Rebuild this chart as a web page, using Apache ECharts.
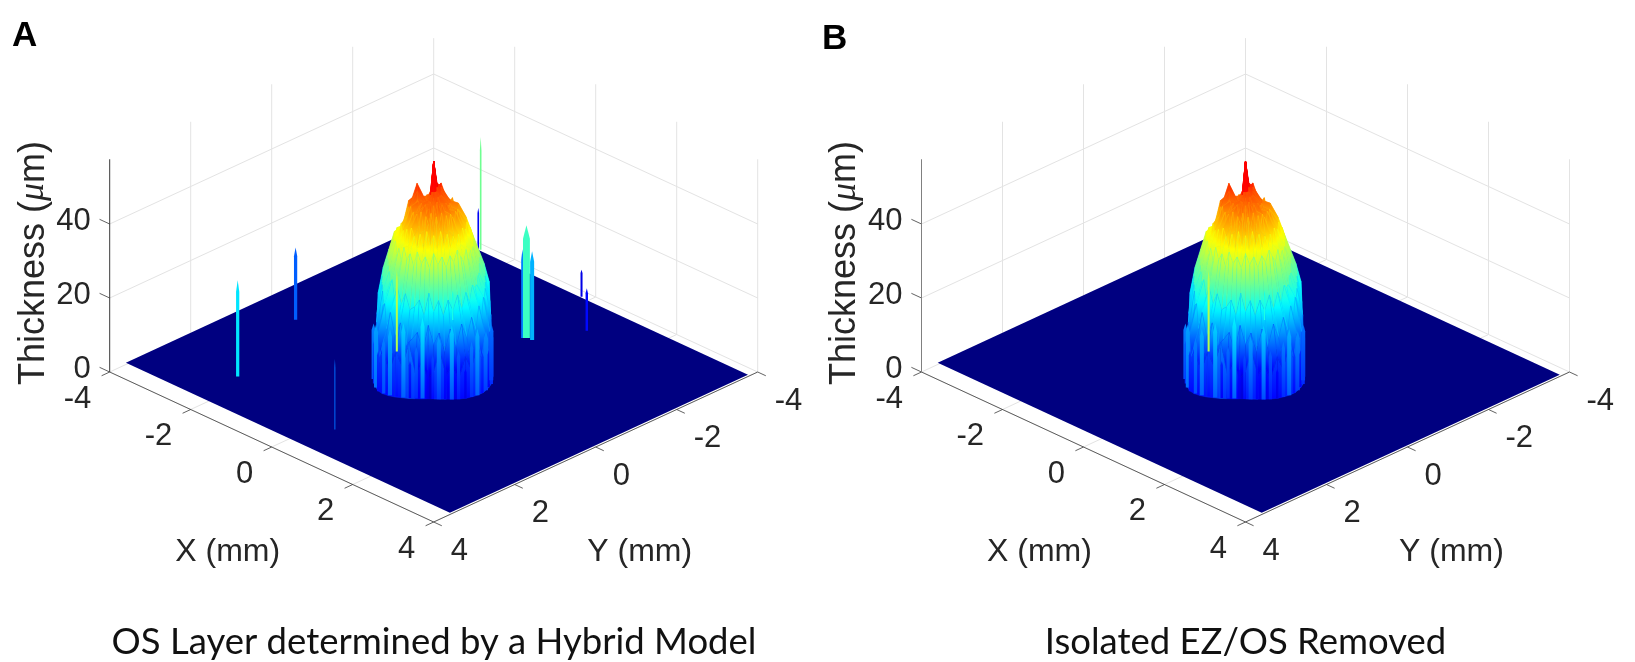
<!DOCTYPE html>
<html>
<head>
<meta charset="utf-8">
<style>html,body{margin:0;padding:0;background:#fff}#chart{width:1635px;height:662px}</style>
<script src="https://cdn.jsdelivr.net/npm/echarts@6/dist/echarts.min.js"></script>
</head>
<body>
<div id="chart"></div>
<script>
// ---------- axis ticks ----------
const xTicks = [-4, -2, 0, 2, 4];
const yTicks = [-4, -2, 0, 2, 4];
const zTicks = [0, 20, 40];
const zAxisTop = 57.5;
const zBackCornerTop = 49.7;      // the back corner gridline stops at the top of the picture
const panelTitles = ['OS Layer determined by a Hybrid Model', 'Isolated EZ/OS Removed'];
const panelLetters = ['A', 'B'];

// ---------- floor of the surface (mm) ----------
const surfaceXRange = [-4.05, 3.95];
const surfaceYRange = [-3.81, 3.55];

// ---------- central dome: thickness (um) read on rings around (0,0), every 6 deg of view azimuth ----------
const domeApex = 57;
const ringRadii = [0.06, 0.13, 0.29, 0.44, 0.58, 0.7, 0.8, 0.9, 0.99];
const wallRadius = 1.02;
const ring006 = [50,50,49,50,49,48,49,48,49,48, 49,48,49,48,49,48,49,48,49,48, 49,48,48,47,48,47,48,47,47,48, 47,48,47,48,47,48,48,49,48,49, 48,49,49,48,49,48,49,49,50,49, 50,49,50,49,50,51,50,50,51,50];
const ring013 = [50,49,48,47,48,47,48,46,47,48, 46,47,48,46,47,48,47,46,48,47, 46,47,46,47,46,47,46,45,46,45, 46,45,46,45,46,47,46,47,46,47, 46,47,48,46,47,48,47,48,46,47, 48,47,48,49,48,49,50,49,50,51];
const ring029 = [43,45,46,44,46,45,46,47,45,44, 47,45,47,48,45,47,45,48,46,44, 47,45,46,47,44,46,47,45,47,49, 51,48,46,44,46,44,45,46,45,44, 45,46,44,45,46,47,45,46,44,45, 46,44,45,43,44,46,43,45,46,44];
const ring044 = [40,44,41,45,41,45,40,44,45,41, 45,41,46,42,45,41,46,43,45,41, 46,42,45,41,45,42,46,41,43,45, 44,46,41,45,41,44,40,42,43,41, 42,41,42,43,41,42,43,41,42,41, 43,41,42,45,42,44,41,43,45,42];
const ring058 = [38,41,37,40,36,41,37,40,36,40, 37,41,38,42,37,41,38,42,37,41, 37,40,42,37,41,36,40,37,41,38, 39,37,38,37,38,37,38,36,37,38, 37,38,36,37,38,37,38,36,37,38, 38,37,39,38,39,41,38,40,41,39];
const ring070 = [36,34,35,33,35,33,36,33,35,37, 34,36,33,36,34,37,33,36,34,37, 33,36,34,37,33,36,34,37,33,36, 36,36,37,36,37,36,36,35,36,35, 35,36,35,35,36,35,36,35,35,36, 35,36,37,36,37,36,37,36,36,35];
const ring080 = [31,30,28,28,26,26,27,23,26,22, 26,22,25,21,25,22,27,21,25,23, 22,26,23,27,24,28,27,29,30,31, 31,30,32,31,32,30,31,30,31,29, 30,29,30,29,30,30,29,31,30,29, 31,30,32,31,32,31,32,31,32,30];
const ring090 = [26,25,24,22,23,18,22,16,20,15, 19,13,18,12,17,14,19,12,17,15, 13,19,15,21,16,22,21,24,25,25, 26,25,27,26,28,26,27,25,26,24, 25,24,25,23,24,25,24,26,25,24, 26,25,27,26,28,27,28,27,28,26];
const ring099 = [16,15,17,12,14,10,15,9,13,7, 11,5,9,6,13,7,5,10,6,15, 8,12,6,11,9,14,8,13,15,14, 16,15,20,17,21,18,20,17,19,16, 18,16,17,15,16,15,17,16,18,15, 17,19,18,21,19,22,20,21,23,18];
const domeRings = [ring006, ring013, ring029, ring044, ring058, ring070, ring080, ring090, ring099];
// how far the base outline reaches at each azimuth: the base is squarer than a circle towards the viewer
const outerReach = [1.0,1.01,1.03,1.05,1.08,1.10,1.12,1.14,1.14,1.13, 1.12,1.09,1.06,1.03,1.01,1.0,1.0,1.02,1.04,1.07, 1.10,1.14,1.17,1.19,1.18,1.14,1.10,1.06,1.03,1.01, 1.0,1.0,1.0,1.0,1.0,1.0,1.0,1.0,1.0,1.0, 1.0,1.0,1.0,1.0,1.0,1.0,1.0,1.0,1.0,1.0, 1.0,1.0,1.0,1.0,1.0,1.0,1.0,1.0,1.0,1.0];

// ---------- thin bright stripes on the base wall of the dome (azimuth deg, top thickness, base tone) ----------
const stripeAzimuth = [166,157,150,143,137,131,125,119,113,107,101,96,91,85,79,73,67,61,55,49,43,37,31,24,17,10];
const stripeHeight  = [15,12,17,11,15,18,12,20,10,14,22,8,12,17,9,20,13,8,15,18,11,16,10,14,13,14];
const stripeTone    = [12,10,14,8,12,13,8,13,7,10,13,6,8,11,7,12,9,6,10,13,8,11,7,10,11,11];
const stripeWidth   = [0.05,0.04,0.05,0.03,0.04,0.05,0.03,0.05,0.03,0.04,0.05,0.03,0.03,0.05,0.03,0.05,0.04,0.03,0.04,0.05,0.03,0.05,0.03,0.04,0.05,0.04];

// ---------- isolated spikes only present in panel A ----------
const spikeX      = [-2.30, -3.10, 0.31, -2.68, -2.70, 0.19, 0.36, 0.24, -0.18, 0.79];
const spikeY      = [ 2.54,  0.31, 2.75, -3.84, -3.80,-2.00,-2.07,-2.05, -3.83,-2.99];
const spikeHeight = [26, 19.5, 19, 30.5, 11.4, 24, 24, 30.5, 7.3, 11.5];
const spikeTone   = [21, 13, 14, 29, 7, 15, 18, 26, 6, 8];
const spikeWidth  = [0.04, 0.04, 0.012, 0.02, 0.02, 0.03, 0.05, 0.085, 0.025, 0.03];

// ---------- bright streaks on the dome flank, present in both panels ----------
const streakX      = [-1.00, -1.15];
const streakY      = [-0.09, -1.62];
const streakHeight = [22, 8];
const streakTone   = [33, 24];
const streakWidth  = [0.025, 0.015];

// ---------- projection: u = X-Y, v = (X+Y) - kz*Z, drawn through hidden value axes ----------
const kz = 3.7 / 18.75;
const colorMax = 60;
function project(X, Y, Z) { return [X - Y, X + Y - kz * Z]; }
function clamp01(a) { return Math.max(0, Math.min(1, a)); }
function jet(z) {
  const t = Math.min(0.91, clamp01(z / colorMax));
  const r = clamp01(1.5 - Math.abs(4 * t - 3));
  const g = clamp01(1.5 - Math.abs(4 * t - 2));
  const b = clamp01(1.5 - Math.abs(4 * t - 1));
  return 'rgb(' + Math.round(r * 255) + ',' + Math.round(g * 255) + ',' + Math.round(b * 255) + ')';
}
function polar(r, deg, z) {
  const a = deg * Math.PI / 180, U = r * Math.cos(a), V = r * Math.sin(a);
  return [(U + V) / Math.SQRT2, (V - U) / Math.SQRT2, z];
}

// dome cells (far to near)
const n = ring013.length, step = 360 / n;
function reached(r, j) {
  const w = clamp01((r - 0.7) / 0.29);
  return r * (1 + (outerReach[j] - 1) * w);
}
const cells = [];
for (let j = 0; j < n; j++) {
  const j2 = (j + 1) % n, a1 = j * step, a2 = (j + 1) * step, am = (a1 + a2) / 2 * Math.PI / 180;
  cells.push({ d: 0.03 * Math.sin(am), wall: false, pts: [polar(0, 0, domeApex), polar(ringRadii[0], a1, domeRings[0][j]), polar(ringRadii[0], a2, domeRings[0][j2])] });
  for (let i = 0; i + 1 < ringRadii.length; i++) {
    cells.push({ d: (ringRadii[i] + ringRadii[i + 1]) / 2 * Math.sin(am), wall: false, pts: [
      polar(reached(ringRadii[i], j), a1, domeRings[i][j]), polar(reached(ringRadii[i], j2), a2, domeRings[i][j2]),
      polar(reached(ringRadii[i + 1], j2), a2, domeRings[i + 1][j2]), polar(reached(ringRadii[i + 1], j), a1, domeRings[i + 1][j])] });
  }
  const L = ringRadii.length - 1;
  cells.push({ d: wallRadius * Math.sin(am), wall: true, pts: [
    polar(reached(ringRadii[L], j), a1, domeRings[L][j]), polar(reached(ringRadii[L], j2), a2, domeRings[L][j2]),
    polar(wallRadius * outerReach[j2], a2, 0), polar(wallRadius * outerReach[j], a1, 0)] });
}
cells.sort((a, b) => a.d - b.d);

function cellStyle(c) {
  const zs = c.pts.map(p => p[2]);
  const ys = c.pts.map(p => project(p[0], p[1], p[2])[1]);
  let ti = 0, bi = 0;
  ys.forEach((y, i) => { if (y < ys[ti]) ti = i; if (y > ys[bi]) bi = i; });
  const zTop = zs[ti];
  let zBot = zs[bi];
  if (c.wall) zBot = Math.max(4.5, 0.7 * Math.max.apply(null, zs));
  const stops = [];
  for (let k = 0; k <= 6; k++) stops.push({ offset: k / 6, color: jet(zTop + (zBot - zTop) * k / 6) });
  return { fill: { type: 'linear', x: 0, y: 0, x2: 0, y2: 1, colorStops: stops }, stroke: jet((zTop + zBot) / 2), lineWidth: 0.4 };
}
const cellStyles = cells.map(cellStyle);

// stripes are placed on the outline of the base
const stripeX = [], stripeY = [];
stripeAzimuth.forEach(a => {
  const p = polar(wallRadius * outerReach[Math.floor(a / step)], a, 0);
  stripeX.push(p[0]); stripeY.push(p[1]);
});

// wall / floor gridlines
const gridSegments = [];
yTicks.forEach(Y => { if (Y !== 4) gridSegments.push([-4, Y, 0, -4, Y, Y === -4 ? zBackCornerTop : zAxisTop]); });
xTicks.forEach(X => { if (X !== -4) gridSegments.push([X, -4, 0, X, -4, zAxisTop]); });
zTicks.forEach(Z => { gridSegments.push([-4, 4, Z, -4, -4, Z]); gridSegments.push([-4, -4, Z, 4, -4, Z]); });
xTicks.forEach(X => { if (X !== -4) gridSegments.push([X, -4, 0, X, 4, 0]); });
yTicks.forEach(Y => { if (Y !== -4) gridSegments.push([-4, Y, 0, 4, Y, 0]); });

// axis lines and ticks
const axisSegments = [[4, 4, 0, -4, 4, 0], [4, 4, 0, 4, -4, 0]];
xTicks.forEach(X => axisSegments.push([X, 4, 0, X, 4.2, 0]));
yTicks.forEach(Y => axisSegments.push([4, Y, 0, 4.2, Y, 0]));
zTicks.forEach(Z => axisSegments.push([-4, 4, Z, -4.25, 4, Z]));

const TEXT = '#262626', SANS = '"Liberation Sans", Arial, sans-serif';
const labels = [];
xTicks.forEach(X => labels.push({ t: String(X), p: [X, 4, 0], dx: -18.5, dy: 27, align: 'right', size: 31 }));
yTicks.forEach(Y => labels.push({ t: String(Y), p: [4, Y, 0], dx: 17, dy: 29, align: 'left', size: 31 }));
zTicks.forEach(Z => labels.push({ t: String(Z), p: [-4, 4, Z], dx: -19, dy: -3, align: 'right', size: 31 }));
labels.push({ t: 'X (mm)', p: [4, 4, 0], dx: -206, dy: 30, align: 'center', size: 32 });
labels.push({ t: 'Y (mm)', p: [4, 4, 0], dx: 206, dy: 30, align: 'center', size: 32 });

function lineSeries(idx, segs, color, width) {
  return { type: 'custom', xAxisIndex: idx, yAxisIndex: idx, silent: true, clip: false, animation: false,
    data: segs.map((s, i) => [i]),
    renderItem(p, api) {
      const s = segs[api.value(0)];
      const a = api.coord(project(s[0], s[1], s[2])), b = api.coord(project(s[3], s[4], s[5]));
      return { type: 'line', shape: { x1: a[0], y1: a[1], x2: b[0], y2: b[1] }, style: { stroke: color, lineWidth: width } };
    } };
}
// a thin column standing on the floor; when blended, its colour runs from its own height at the top to its tone at the base
function spikeSeries(idx, xs, ys, hs, tones, ws, blended) {
  return { type: 'custom', xAxisIndex: idx, yAxisIndex: idx, silent: true, clip: false, animation: false,
    data: xs.map((x, i) => [i]),
    renderItem(p, api) {
      const i = api.value(0), w = ws[i];
      const b = project(xs[i], ys[i], 0), s = project(xs[i], ys[i], hs[i] * 0.88), t = project(xs[i], ys[i], hs[i]);
      const pts = [[b[0] - w, b[1]], [b[0] + w, b[1]], [b[0] + w, s[1]], [t[0], t[1]], [b[0] - w, s[1]]].map(q => api.coord(q));
      const fill = blended
        ? { type: 'linear', x: 0, y: 0, x2: 0, y2: 1, colorStops: [{ offset: 0, color: jet(hs[i]) }, { offset: 0.5, color: jet((hs[i] + tones[i]) / 2) }, { offset: 1, color: jet(tones[i]) }] }
        : jet(tones[i]);
      return { type: 'polygon', shape: { points: pts }, style: { fill } };
    } };
}
function panelSeries(idx) {
  const out = [];
  out.push(lineSeries(idx, gridSegments, '#e3e3e3', 1));
  // floor of the surface
  out.push({ type: 'custom', xAxisIndex: idx, yAxisIndex: idx, silent: true, clip: false, animation: false, data: [[0]],
    renderItem(p, api) {
      const [x0, x1] = surfaceXRange, [y0, y1] = surfaceYRange;
      const pts = [[x0, y0], [x1, y0], [x1, y1], [x0, y1]].map(q => api.coord(project(q[0], q[1], 0)));
      return { type: 'polygon', shape: { points: pts }, style: { fill: jet(0) } };
    } });
  out.push(lineSeries(idx, axisSegments, '#3a3a3a', 0.8));
  out.push(lineSeries(idx, [[-4, 4, 0, -4, 4, zAxisTop]], idx === 0 ? '#3a3a3a' : '#808080', 1));
  if (idx === 0) out.push(spikeSeries(idx, spikeX, spikeY, spikeHeight, spikeTone, spikeWidth, false));
  // dome
  out.push({ type: 'custom', xAxisIndex: idx, yAxisIndex: idx, silent: true, clip: false, animation: false,
    data: cells.map((c, i) => [i]),
    renderItem(p, api) {
      const i = api.value(0);
      const pts = cells[i].pts.map(q => api.coord(project(q[0], q[1], q[2])));
      return { type: 'polygon', shape: { points: pts }, style: cellStyles[i] };
    } });
  out.push(spikeSeries(idx, stripeX, stripeY, stripeHeight, stripeTone, stripeWidth, true));
  out.push(spikeSeries(idx, streakX, streakY, streakHeight, streakTone, streakWidth, false));
  // axis labels
  out.push({ type: 'custom', xAxisIndex: idx, yAxisIndex: idx, silent: true, clip: false, animation: false,
    data: labels.map((l, i) => [i]),
    renderItem(p, api) {
      const l = labels[api.value(0)], c = api.coord(project(l.p[0], l.p[1], l.p[2]));
      return { type: 'text', x: c[0] + l.dx, y: c[1] + l.dy, style: { text: l.t, align: l.align, verticalAlign: 'middle', fill: TEXT, font: l.size + 'px ' + SANS } };
    } });
  // z axis title
  out.push({ type: 'custom', xAxisIndex: idx, yAxisIndex: idx, silent: true, clip: false, animation: false, data: [[0]],
    renderItem(p, api) {
      const c = api.coord(project(-4, 4, 0));
      return { type: 'text', x: c[0] - 76, y: c[1] - 109, rotation: Math.PI / 2,
        style: { text: 'Thickness ({mu|\u03bc}m)', align: 'center', verticalAlign: 'middle', fill: TEXT, fontFamily: 'Liberation Sans', fontSize: 36,
          rich: { mu: { fontFamily: 'Liberation Serif', fontStyle: 'italic', fontSize: 36, fill: TEXT } } } };
    } });
  return out;
}

const panelLeft = [109.7, 921.5];
const option = {
  backgroundColor: '#fff',
  animation: false,
  title: [
    { text: panelLetters[0], left: 12, top: 19, padding: 0, textStyle: { fontFamily: 'Liberation Sans', fontWeight: 'bold', fontSize: 35, color: '#000' } },
    { text: panelLetters[1], left: 822, top: 22, padding: 0, textStyle: { fontFamily: 'Liberation Sans', fontWeight: 'bold', fontSize: 35, color: '#000' } },
    { text: panelTitles[0], left: 434, top: 624, padding: 0, textAlign: 'center', textStyle: { fontFamily: 'Lato', fontWeight: 'normal', fontSize: 36.5, color: '#111' } },
    { text: panelTitles[1], left: 1245.5, top: 624, padding: 0, textAlign: 'center', textStyle: { fontFamily: 'Lato', fontWeight: 'normal', fontSize: 36.5, color: '#111' } }
  ],
  grid: panelLeft.map(l => ({ left: l, width: 648, top: 15.75, height: 506.25, containLabel: false })),
  xAxis: panelLeft.map((l, i) => ({ type: 'value', gridIndex: i, min: -8, max: 8, show: false })),
  yAxis: panelLeft.map((l, i) => ({ type: 'value', gridIndex: i, min: -19, max: 8, inverse: true, show: false })),
  series: panelSeries(0).concat(panelSeries(1))
};
echarts.init(document.getElementById('chart'), null, { renderer: 'canvas' }).setOption(option);
</script>
</body>
</html>
